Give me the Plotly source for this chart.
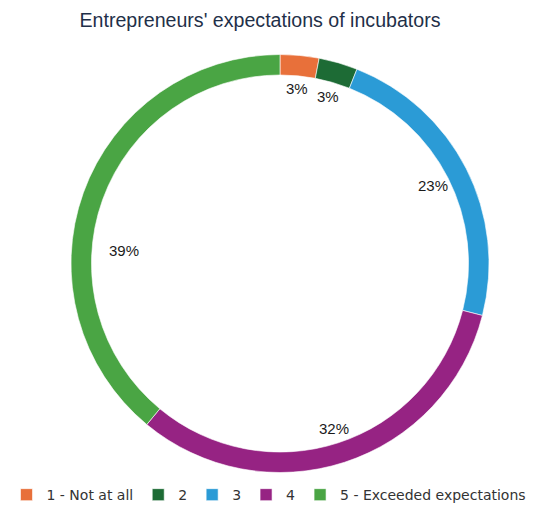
import math
import plotly.graph_objects as go

# Survey answers: how well incubators met entrepreneurs' expectations
categories = ["1 - Not at all", "2", "3", "4", "5 - Exceeded expectations"]
shares = [3, 3, 23, 32, 39]
colors = ["#E8703A", "#1D6B35", "#2B9BD6", "#962383", "#4AA544"]

# Label placement (styling): radial position as a fraction of the outer radius,
# plus an angular nudge in degrees for labels that sit off their slice centre.
label_radius = [0.84, 0.83, 0.82, 0.83, 0.75]
label_nudge_deg = [0, 0, 0, 0, -15]

W, H = 538, 507
cx_px, cy_px, r_px = 280, 263.5, 209

fig = go.Figure(
    go.Pie(
        labels=categories,
        values=shares,
        hole=0.902,
        sort=False,
        direction="clockwise",
        rotation=0,
        marker=dict(colors=colors, line=dict(color="white", width=0.6)),
        textinfo="none",
        hoverinfo="label+percent",
        domain=dict(
            x=[(cx_px - r_px) / W, (cx_px + r_px) / W],
            y=[1 - (cy_px + r_px) / H, 1 - (cy_px - r_px) / H],
        ),
    )
)

# Percentage labels just inside the ring, at each slice's angular midpoint
total = sum(shares)
cum = 0
for v, rf, nudge in zip(shares, label_radius, label_nudge_deg):
    mid = (cum + v / 2) / total * 360 + nudge
    cum += v
    a = math.radians(mid)
    x_px = cx_px + rf * r_px * math.sin(a)
    y_px = cy_px - rf * r_px * math.cos(a)
    fig.add_annotation(
        x=x_px / W,
        y=1 - y_px / H,
        xref="paper",
        yref="paper",
        xanchor="center",
        yanchor="middle",
        text=f"{round(v / total * 100)}%",
        showarrow=False,
        font=dict(family="Liberation Sans, Arial, sans-serif", size=15, color="#1a1a1a"),
    )

fig.update_layout(
    width=W,
    height=H,
    margin=dict(l=0, r=0, t=0, b=0, autoexpand=False),
    paper_bgcolor="white",
    plot_bgcolor="white",
    title=dict(
        text="Entrepreneurs' expectations of incubators",
        x=260 / W,
        xanchor="center",
        y=1 - 20 / H,
        yanchor="middle",
        font=dict(family="Liberation Sans, Arial, sans-serif", size=19.6, color="#1F3049"),
    ),
    legend=dict(
        orientation="h",
        x=0.5,
        xanchor="center",
        y=-0.008,
        yanchor="bottom",
        bgcolor="rgba(0,0,0,0)",
        font=dict(family="DejaVu Sans, sans-serif", size=14, color="#333333"),
        itemwidth=30,
        tracegroupgap=0,
    ),
    showlegend=True,
)

fig.write_html("out.html")
